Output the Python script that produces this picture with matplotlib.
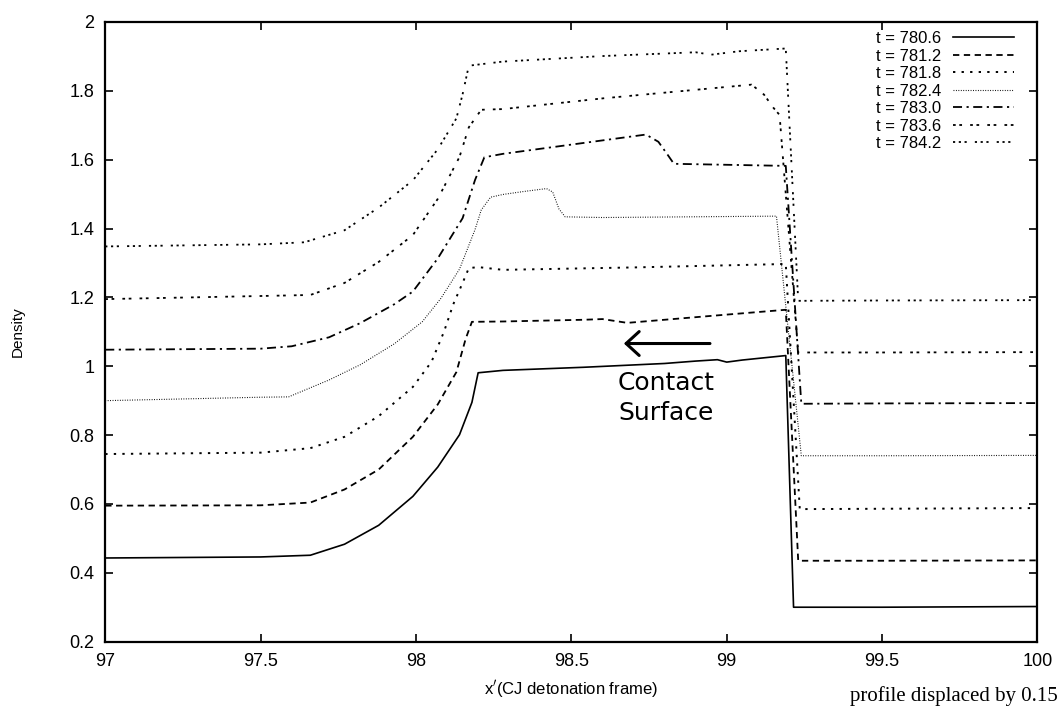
import matplotlib.pyplot as plt
from matplotlib.ticker import FuncFormatter

# Density profiles behind a detonation front.
# Each later time is plotted 0.15 higher than the one before it.
times = ['780.6', '781.2', '781.8', '782.4', '783.0', '783.6', '784.2']

x_780_6 = [97.00, 97.50, 97.66, 97.77, 97.88, 97.99, 98.07, 98.14, 98.18, 98.20,
           98.28, 98.54, 98.80, 98.90, 98.97, 99.00, 99.05, 99.19, 99.215, 99.50, 100.0]
rho_780_6 = [0.443, 0.446, 0.451, 0.483, 0.538, 0.622, 0.707, 0.801, 0.895, 0.981,
             0.988, 0.997, 1.008, 1.015, 1.019, 1.012, 1.018, 1.031, 0.300, 0.300, 0.302]

x_781_2 = [97.00, 97.50, 97.66, 97.77, 97.88, 97.99, 98.07, 98.13, 98.16, 98.18,
           98.28, 98.54, 98.60, 98.68, 98.80, 99.00, 99.19, 99.23, 99.50, 100.0]
rho_781_2 = [0.595, 0.596, 0.604, 0.642, 0.700, 0.795, 0.889, 0.983, 1.080, 1.129,
             1.130, 1.135, 1.137, 1.126, 1.135, 1.150, 1.164, 0.435, 0.435, 0.436]

x_781_8 = [97.00, 97.50, 97.66, 97.77, 97.88, 97.99, 98.05, 98.09, 98.12, 98.15,
           98.17, 98.20, 98.28, 98.70, 99.19, 99.235, 99.50, 100.0]
rho_781_8 = [0.745, 0.749, 0.762, 0.795, 0.855, 0.940, 1.013, 1.100, 1.180, 1.242,
             1.285, 1.288, 1.280, 1.287, 1.297, 0.585, 0.586, 0.588]

x_782_4 = [97.00, 97.50, 97.59, 97.72, 97.82, 97.93, 98.02, 98.08, 98.14, 98.19,
           98.21, 98.24, 98.28, 98.35, 98.42, 98.44, 98.46, 98.48, 98.60, 99.16,
           99.24, 99.50, 100.0]
rho_782_4 = [0.900, 0.910, 0.911, 0.960, 1.004, 1.065, 1.129, 1.197, 1.282, 1.397,
             1.454, 1.491, 1.499, 1.508, 1.516, 1.506, 1.457, 1.434, 1.432, 1.436,
             0.740, 0.740, 0.741]

x_783_0 = [97.00, 97.50, 97.60, 97.72, 97.82, 97.93, 97.99, 98.07, 98.15, 98.19,
           98.22, 98.28, 98.60, 98.74, 98.78, 98.81, 98.83, 99.19, 99.24, 99.50, 100.0]
rho_783_0 = [1.048, 1.051, 1.058, 1.084, 1.125, 1.180, 1.217, 1.313, 1.430, 1.541,
             1.607, 1.617, 1.656, 1.673, 1.652, 1.614, 1.588, 1.582, 0.891, 0.892, 0.893]

x_783_6 = [97.00, 97.50, 97.66, 97.77, 97.88, 97.99, 98.07, 98.14, 98.17, 98.21,
           98.28, 98.60, 99.08, 99.12, 99.15, 99.17, 99.23, 99.50, 100.0]
rho_783_6 = [1.195, 1.204, 1.207, 1.242, 1.303, 1.381, 1.486, 1.608, 1.694, 1.745,
             1.747, 1.778, 1.818, 1.789, 1.751, 1.730, 1.040, 1.040, 1.041]

x_784_2 = [97.00, 97.50, 97.64, 97.77, 97.88, 97.99, 98.07, 98.13, 98.15, 98.17,
           98.28, 98.60, 98.90, 98.95, 99.04, 99.19, 99.23, 99.50, 100.0]
rho_784_2 = [1.348, 1.354, 1.360, 1.395, 1.461, 1.540, 1.630, 1.720, 1.790, 1.873,
             1.885, 1.901, 1.912, 1.905, 1.915, 1.923, 1.190, 1.191, 1.192]

xs = [x_780_6, x_781_2, x_781_8, x_782_4, x_783_0, x_783_6, x_784_2]
rhos = [rho_780_6, rho_781_2, rho_781_8, rho_782_4, rho_783_0, rho_783_6, rho_784_2]

x_ticks = [97, 97.5, 98, 98.5, 99, 99.5, 100]
y_ticks = [0.2, 0.4, 0.6, 0.8, 1.0, 1.2, 1.4, 1.6, 1.8, 2.0]

# gnuplot-like line types, all black
styles = [
    dict(ls='-', lw=1.2),
    dict(ls=(0, (3.5, 2.5)), lw=1.3),
    dict(ls=(0, (1.2, 3.2)), lw=1.4),
    dict(ls=(0, (0.8, 1.4)), lw=0.8),
    dict(ls=(0, (5, 2.5, 1.2, 2.5)), lw=1.3),
    dict(ls=(0, (1.5, 2, 1.5, 4.5)), lw=1.3),
    dict(ls=(0, (1.2, 2, 1.2, 2, 1.2, 4.5)), lw=1.3),
]

plt.rcParams['font.family'] = ['Liberation Sans', 'DejaVu Sans']

fig = plt.figure(figsize=(10.63, 7.09), dpi=100)
ax = fig.add_axes([0.099, 0.095, 0.877, 0.874])

for t, x, rho, st in zip(times, xs, rhos, styles):
    ax.plot(x, rho, color='black', label=f't = {t}', **st)

ax.set_xlim(97, 100)
ax.set_ylim(0.2, 2.0)
ax.set_xticks(x_ticks)
ax.set_yticks(y_ticks)
fmt = FuncFormatter(lambda v, pos: f'{v:g}')
ax.xaxis.set_major_formatter(fmt)
ax.yaxis.set_major_formatter(fmt)
ax.tick_params(direction='in', length=6, width=1.2, top=True, right=True,
               labelsize=13, pad=8)
for sp in ax.spines.values():
    sp.set_linewidth(1.6)

ax.set_ylabel('Density', fontsize=11)
ax.yaxis.set_label_coords(-0.086, 0.5)
ax.set_xlabel(r"x$^{\prime}$(CJ detonation frame)", fontsize=12)
ax.xaxis.set_label_coords(0.5, -0.058)

ax.legend(loc='upper right', bbox_to_anchor=(0.975, 0.985), frameon=False,
          markerfirst=False, handlelength=3.7, handletextpad=0.7,
          labelspacing=0.15, fontsize=12, borderaxespad=0, borderpad=0)

# contact surface marker
ax.annotate('', xy=(98.66, 1.066), xytext=(98.955, 1.066),
            arrowprops=dict(arrowstyle='->,head_length=0.47,head_width=0.43',
                            lw=2.2, color='black', mutation_scale=20))
ax.text(98.65, 0.951, 'Contact', fontsize=18, family='DejaVu Sans',
        ha='left', va='center')
ax.text(98.65, 0.865, 'Surface', fontsize=18, family='DejaVu Sans',
        ha='left', va='center')

# caption fragment from the scan, kept inside the figure
fig.text(1058 / 1063, 0.004, 'profile displaced by 0.15', fontsize=15,
         family='Liberation Serif', va='bottom', ha='right')

fig.savefig('out.png', dpi=100)
